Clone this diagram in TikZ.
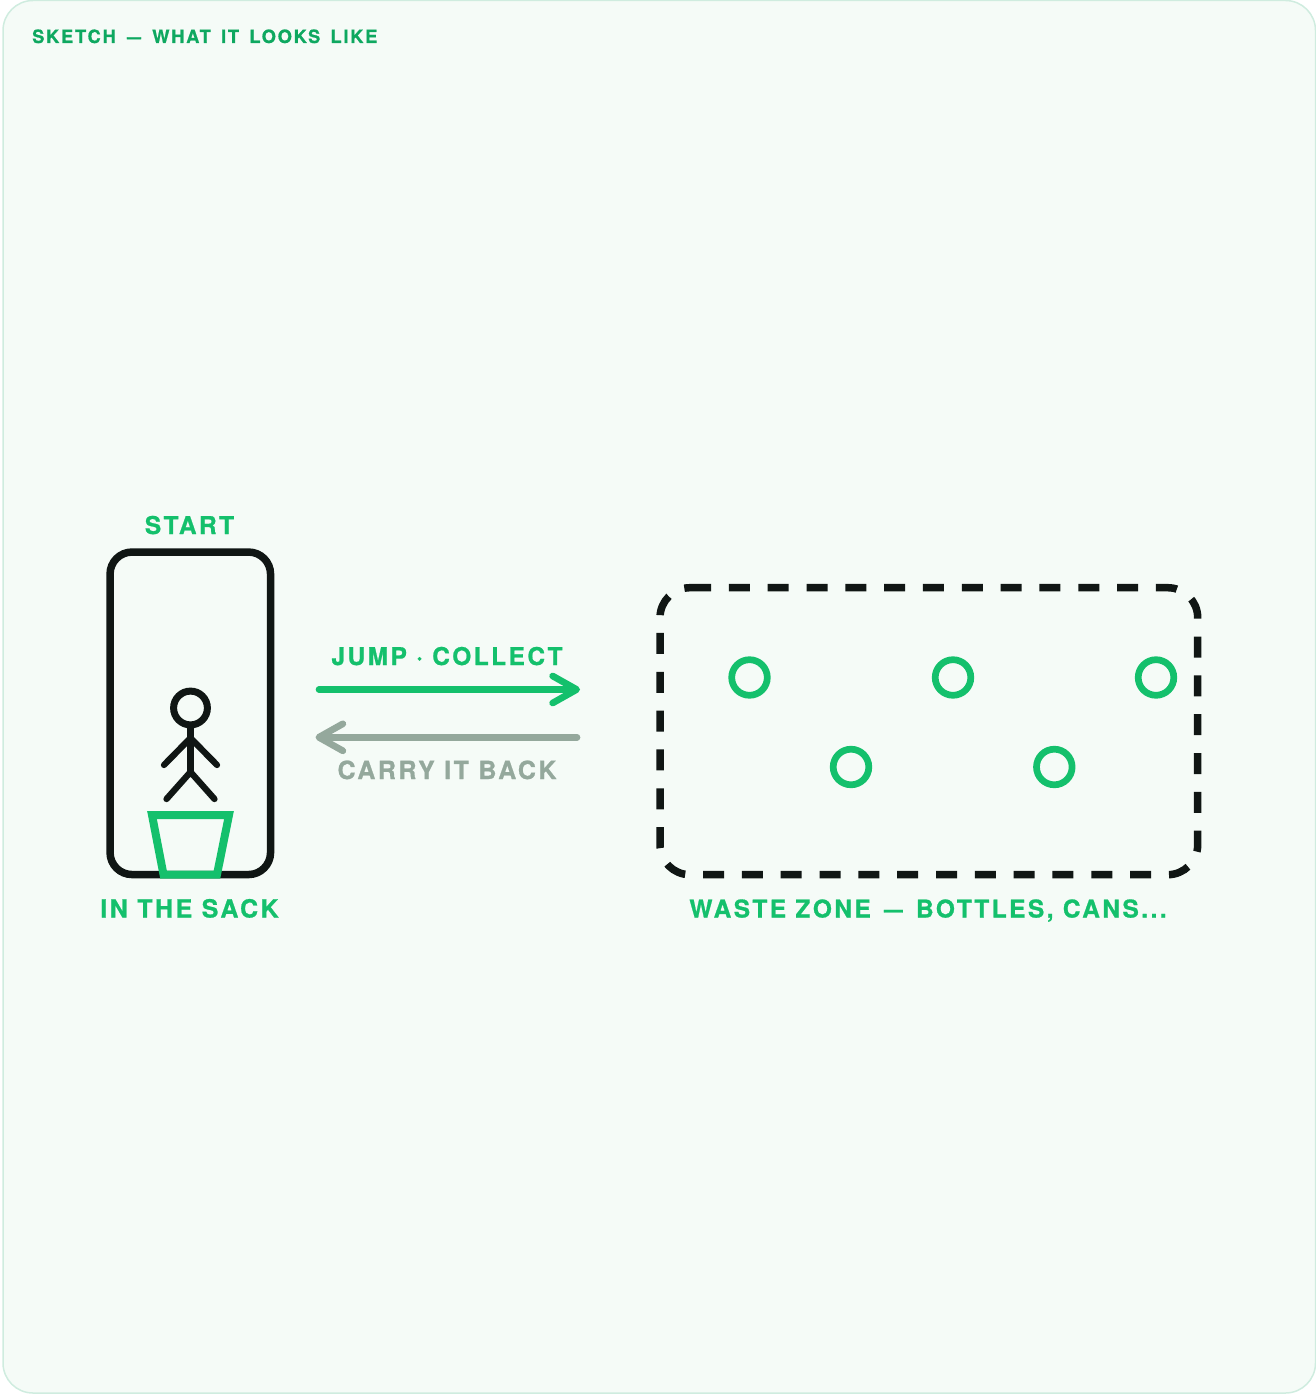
\documentclass[tikz,border=0pt]{standalone}
\usepackage{fontspec}
\setmainfont{TeX Gyre Heros}
\newfontfamily\tagfont{TeX Gyre Heros}[LetterSpace=10, BoldFeatures={FakeBold=0.8}]
\newfontfamily\titlefont{TeX Gyre Heros}[LetterSpace=9.5, WordSpace=1.5, BoldFeatures={FakeBold=0.8}]
\newcommand{\shortdash}{\scalebox{0.76}[1]{—}}
\usetikzlibrary{positioning, arrows.meta}

\definecolor{panelFill}{HTML}{F5FBF7}
\definecolor{panelEdge}{HTML}{CFECDF}
\definecolor{inkBlack}{HTML}{101614}
\definecolor{leafGreen}{HTML}{14C06C}
\definecolor{titleGreen}{HTML}{0EA860}
\definecolor{sageGray}{HTML}{94A89C}

\begin{document}
\begin{tikzpicture}[
  x=1pt, y=-1pt,
  % Panel and captions
  panel/.style={draw=panelEdge, fill=panelFill, line width=1.5pt, rounded corners=30pt},
  caption/.style={text=leafGreen, font=\tagfont\bfseries\fontsize{24.5pt}{28pt}\selectfont, inner sep=0pt, anchor=base},
  wideCaption/.style={caption, font=\tagfont\bfseries\fontsize{25pt}{28pt}\selectfont},
  % Sack area and waste zone
  sackBox/.style={rectangle, draw=inkBlack, line width=7.5pt, rounded corners=22pt, minimum width=160.5pt, minimum height=322.5pt, inner sep=0pt},
  wasteLine/.style={draw=inkBlack, line width=7.5pt, rounded corners=30pt, dash pattern=on 21pt off 17.83pt},
  wasteItem/.style={circle, draw=leafGreen, line width=6.7pt, minimum size=35.6pt, inner sep=0pt},
  % Stick figure and bucket
  limb/.style={draw=inkBlack, line width=6.3pt, line cap=round},
  bucket/.style={draw=leafGreen, line width=8pt, miter limit=10},
  % The two trips
  trip/.style={line width=6.7pt, line cap=round, -{Straight Barb[length=24pt, width=27pt, round]}}
  ]

  \useasboundingbox (0,0) rectangle (1316,1394);
  \draw[panel] (3,0.5) rectangle (1315.5,1393);
  \node[caption, text=titleGreen, anchor=base west, font=\titlefont\bfseries\fontsize{18.3pt}{22pt}\selectfont] (title) at (32,43) {SKETCH\kern1pt{} \shortdash{} \kern1pt WHAT IT LOOKS LIKE};

  % --- Start box ---
  \node[sackBox] (sack) at (190.3,713.3) {};
  \node[caption] (startTag) at (189.5,534) {START};
  \node[wideCaption] (sackTag) at (189.5,917.5) {IN THE SACK};

  % --- Stick figure ---
  \node[circle, draw=inkBlack, line width=7pt, minimum size=33.8pt, inner sep=0pt] (head) at (190.5,708) {};
  \coordinate (neck) at (190.5,738);
  \coordinate (hip) at (190.5,772);
  \coordinate (handL) at (164,765);
  \coordinate (handR) at (217,765);
  \coordinate (footL) at (166.5,799);
  \coordinate (footR) at (214.5,799);
  \draw[limb] (head) -- (hip);
  \draw[limb] (handL) -- (neck) -- (handR);
  \draw[limb] (footL) -- (hip) -- (footR);

  % --- Bucket ---
  \draw[bucket] (152,815) -- (229,815) -- (217,874.5) -- (163.5,874.5) -- cycle;

  % --- Trips ---
  \coordinate (jumpFrom) at (319,689.5);
  \coordinate (jumpTo) at (580,689.5);
  \coordinate (backFrom) at (577,737.3);
  \coordinate (backTo) at (315.5,737.3);
  \draw[trip, leafGreen] (jumpFrom) -- (jumpTo);
  \draw[trip, sageGray] (backFrom) -- (backTo);
  \node[caption] (jumpTag) at (447,665) {JUMP · COLLECT};
  \node[wideCaption, text=sageGray] (backTag) at (447,779) {CARRY IT BACK};

  % --- Waste zone ---
  \coordinate (zoneStart) at (690,587.7);
  \coordinate (zoneNE) at (1197.7,587.7);
  \coordinate (zoneSE) at (1197.7,874.7);
  \coordinate (zoneSW) at (660,874.7);
  \coordinate (zoneNW) at (660,587.7);
  \draw[wasteLine] (zoneStart) -- (zoneNE) -- (zoneSE) -- (zoneSW) -- (zoneNW) -- (zoneStart);
  \node[caption] (zoneTag) at (928,917.5) {WASTE ZONE\kern4pt{} \shortdash{} \kern4pt BOTTLES, CANS...};
  \node[wasteItem] (itemA) at (749.5,677.5) {};
  \node[wasteItem] (itemB) at (953,677.5) {};
  \node[wasteItem] (itemC) at (1156,677.5) {};
  \node[wasteItem] (itemD) at (851,767) {};
  \node[wasteItem] (itemE) at (1054.3,767) {};

\end{tikzpicture}
\end{document}
